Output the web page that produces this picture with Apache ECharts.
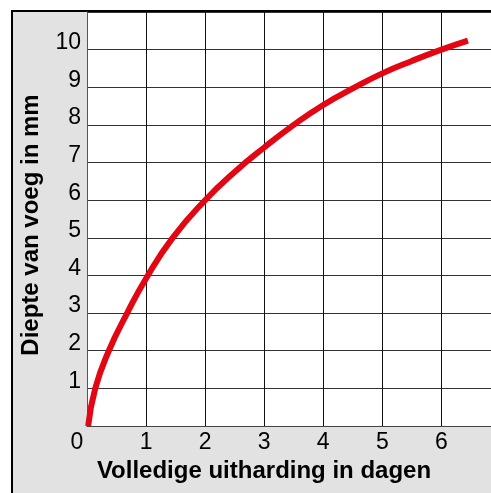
<!DOCTYPE html>
<html>
<head>
<meta charset="utf-8">
<script src="https://cdn.jsdelivr.net/npm/echarts@6/dist/echarts.min.js"></script>
<style>
  html, body { margin: 0; padding: 0; background: #fff; }
  #chart { width: 491px; height: 493px; }
</style>
</head>
<body>
<div id="chart"></div>
<script>
// curve (days, mm)
const days = [0.02, 0.14, 0.37, 0.68, 1, 1.45, 2, 2.5, 3, 3.5, 4, 4.5, 5, 5.5, 6, 6.45];
const depth = [0, 1, 2, 3, 3.92, 5, 6, 6.75, 7.4, 8.0, 8.53, 8.97, 9.37, 9.7, 10, 10.24];

const xTitle = 'Volledige uitharding in dagen';
const yTitle = 'Diepte van voeg in mm';

const FONT = 'Liberation Sans, Arial, Helvetica, sans-serif';

const chart = echarts.init(document.getElementById('chart'), null, { renderer: 'canvas' });

chart.setOption({
  backgroundColor: '#ffffff',
  animation: false,
  graphic: [
    {
      type: 'rect',
      z: -10,
      silent: true,
      shape: { x: 12, y: 11, width: 520, height: 520 },
      style: { fill: '#e2e2e2', stroke: '#000', lineWidth: 2 },
    },
  ],
  grid: {
    left: 87,
    right: 0,
    top: 12,
    bottom: 67,
    show: true,
    backgroundColor: '#ffffff',
    borderWidth: 0,
  },
  xAxis: {
    type: 'value',
    min: 0,
    max: 6.84,
    interval: 1,
    name: xTitle,
    nameLocation: 'middle',
    nameGap: 32,
    nameTextStyle: {
      fontFamily: FONT,
      fontWeight: 'bold',
      fontSize: 24,
      color: '#000',
      padding: [0, 50, 0, 0],
    },
    axisLine: { show: true, lineStyle: { color: '#444', width: 1 } },
    axisTick: { show: false },
    axisLabel: {
      fontFamily: FONT,
      fontSize: 23,
      color: '#000',
      margin: 5,
      showMaxLabel: false,
      formatter: (v) => (v === 0 ? '{o|0}' : String(v)),
      rich: {
        o: { fontFamily: FONT, fontSize: 23, color: '#000', padding: [0, 20, 0, 0] },
      },
    },
    splitLine: { show: true, lineStyle: { color: '#111', width: 1 } },
  },
  yAxis: {
    type: 'value',
    min: 0,
    max: 11,
    interval: 1,
    name: yTitle,
    nameLocation: 'middle',
    nameGap: 44,
    nameRotate: 90,
    nameTextStyle: {
      fontFamily: FONT,
      fontWeight: 'bold',
      fontSize: 24,
      color: '#000',
      padding: [0, 12, 0, 0],
    },
    axisLine: { show: true, lineStyle: { color: '#555', width: 1 } },
    axisTick: { show: false },
    axisLabel: {
      fontFamily: FONT,
      fontSize: 23,
      color: '#000',
      margin: 6,
      verticalAlign: 'bottom',
      lineHeight: 14,
      formatter: (v) => (v === 0 || v === 11 ? '' : String(v)),
    },
    splitLine: { show: true, lineStyle: { color: '#333', width: 1 } },
  },
  series: [
    {
      type: 'line',
      data: days.map((d, i) => [d, depth[i]]),
      smooth: 0.5,
      showSymbol: false,
      clip: false,
      lineStyle: { color: '#e30613', width: 6, cap: 'butt' },
    },
  ],
});
</script>
</body>
</html>
